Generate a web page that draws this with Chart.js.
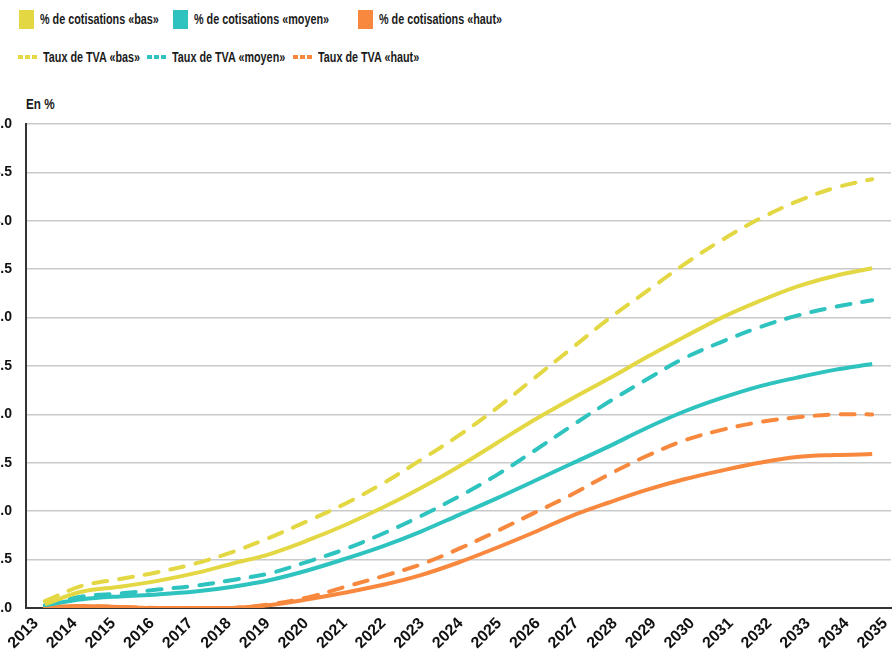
<!DOCTYPE html>
<html>
<head>
<meta charset="utf-8">
<script src="https://cdn.jsdelivr.net/npm/chart.js@4.4.1/dist/chart.umd.min.js"></script>
<style>
  html, body { margin: 0; padding: 0; background: #fff; overflow: hidden; }
  body { width: 892px; height: 652px; position: relative; font-family: "Liberation Sans", Arial, sans-serif; font-weight: bold; color: #1a1a1a; }
  .lg { position: absolute; font-size: 15px; white-space: nowrap; line-height: 16px; transform: scaleX(0.72); transform-origin: 0 50%; }
  .box { position: absolute; width: 15px; height: 19px; }
  .dash { position: absolute; width: 19px; height: 4px; }
  #unit { position: absolute; left: 26px; top: 96px; font-size: 15px; line-height: 16px; transform: scaleX(0.78); transform-origin: 0 50%; }
  #wrap { position: absolute; left: -14px; top: 114px; width: 920px; height: 538px; }
</style>
</head>
<body>
<div id="legend"></div>
<div id="unit">En %</div>
<div id="wrap"><canvas id="myChart"></canvas></div>
<script>
// DONNEES
const years = ["2013", "2014", "2015", "2016", "2017", "2018", "2019", "2020", "2021", "2022", "2023", "2024",
  "2025", "2026", "2027", "2028", "2029", "2030", "2031", "2032", "2033", "2034", "2035"];

const cotisBas = [0.04, 0.17, 0.22, 0.28, 0.36, 0.46, 0.56, 0.70, 0.86, 1.04, 1.24, 1.46,
  1.70, 1.94, 2.16, 2.37, 2.59, 2.80, 3.00, 3.17, 3.32, 3.43, 3.51];
const cotisMoyen = [0.03, 0.09, 0.12, 0.14, 0.17, 0.22, 0.29, 0.39, 0.51, 0.64, 0.79, 0.96,
  1.13, 1.31, 1.49, 1.67, 1.86, 2.03, 2.17, 2.29, 2.38, 2.46, 2.52];
const cotisHaut = [0.01, 0.02, 0.01, 0.0, 0.0, 0.0, 0.03, 0.09, 0.16, 0.24, 0.34, 0.47,
  0.62, 0.78, 0.95, 1.09, 1.22, 1.33, 1.42, 1.50, 1.56, 1.58, 1.59];

const tvaBas = [0.07, 0.23, 0.30, 0.37, 0.46, 0.58, 0.73, 0.90, 1.08, 1.29, 1.53, 1.78,
  2.06, 2.37, 2.68, 2.99, 3.27, 3.55, 3.80, 4.02, 4.20, 4.34, 4.43];
const tvaMoyen = [0.03, 0.12, 0.15, 0.19, 0.23, 0.29, 0.36, 0.48, 0.61, 0.77, 0.95, 1.15,
  1.37, 1.62, 1.88, 2.13, 2.36, 2.58, 2.75, 2.90, 3.02, 3.11, 3.18];
const tvaHaut = [0.01, 0.02, 0.01, 0.0, 0.0, 0.0, 0.04, 0.11, 0.22, 0.33, 0.45, 0.61,
  0.79, 0.98, 1.17, 1.38, 1.57, 1.73, 1.84, 1.92, 1.97, 2.00, 2.00];

const yTicks = [0, 0.5, 1, 1.5, 2, 2.5, 3, 3.5, 4, 4.5, 5];

const jaune = "#e3d844";
const turquoise = "#2ec3bf";
const orange = "#f8883d";

const cotisNames = ["% de cotisations «bas»", "% de cotisations «moyen»", "% de cotisations «haut»"];
const tvaNames = ["Taux de TVA «bas»", "Taux de TVA «moyen»", "Taux de TVA «haut»"];
const colors = [jaune, turquoise, orange];

// LEGENDE
const legend = document.getElementById("legend");
const boxX = [19, 173, 358];
const dashX = [18, 147, 293];
for (let i = 0; i < 3; i++) {
  legend.innerHTML += '<div class="box" style="left:' + boxX[i] + 'px;top:10px;background:' + colors[i] + '"></div>'
    + '<div class="lg" style="left:' + (boxX[i] + 21) + 'px;top:11px">' + cotisNames[i] + '</div>'
    + '<div class="dash" style="left:' + dashX[i] + 'px;top:55px;background:repeating-linear-gradient(to right,'
    + colors[i] + ' 0 5px, transparent 5px 7px)"></div>'
    + '<div class="lg" style="left:' + (dashX[i] + 25) + 'px;top:49px">' + tvaNames[i] + '</div>';
}

function line(label, data, color, dashed) {
  return {
    label: label,
    data: data,
    borderColor: color,
    backgroundColor: color,
    borderWidth: 4,
    borderDash: dashed ? [14, 12] : [],
    borderCapStyle: dashed ? "round" : "butt",
    pointRadius: 0,
    tension: 0.35,
    fill: false,
  };
}

function noPadding(scale) {
  scale.paddingLeft = 0;
  scale.paddingRight = 0;
  scale.paddingTop = 0;
  scale.paddingBottom = 0;
}

const tickFont = { family: "'Liberation Sans', Arial, sans-serif", weight: "bold" };

const ctx = document.getElementById("myChart").getContext("2d");
const myChart = new Chart(ctx, {
  type: "line",
  data: {
    labels: years,
    datasets: [
      line(tvaNames[0], tvaBas, jaune, true),
      line(cotisNames[0], cotisBas, jaune, false),
      line(tvaNames[1], tvaMoyen, turquoise, true),
      line(cotisNames[1], cotisMoyen, turquoise, false),
      line(tvaNames[2], tvaHaut, orange, true),
      line(cotisNames[2], cotisHaut, orange, false),
    ],
  },
  options: {
    responsive: true,
    maintainAspectRatio: false,
    animation: false,
    layout: { padding: { top: 10, right: 15, left: 0, bottom: 0 } },
    plugins: {
      legend: { display: false },
      tooltip: { enabled: false },
    },
    scales: {
      x: {
        type: "category",
        offset: true,
        grid: { display: false, drawTicks: false },
        border: { display: true, color: "#333333", width: 2 },
        ticks: { display: false },
        afterFit: function (s) { s.height = 0; noPadding(s); },
      },
      xl: {
        type: "linear",
        position: "bottom",
        min: 2012.74,
        max: 2035.15,
        grid: { display: false, drawTicks: false },
        border: { display: false },
        ticks: {
          stepSize: 1,
          includeBounds: false,
          autoSkip: false,
          maxTicksLimit: 40,
          minRotation: 45,
          maxRotation: 45,
          padding: 6,
          color: "#111111",
          font: Object.assign({ size: 16 }, tickFont),
          callback: function (v) { return String(v); },
        },
        afterFit: function (s) { s.height = 44; noPadding(s); },
      },
      y: {
        min: 0,
        max: 5,
        grid: { color: "#cacaca", lineWidth: 1.5, drawTicks: false },
        border: { display: true, color: "#333333", width: 2 },
        afterBuildTicks: function (s) { s.ticks = yTicks.map(function (v) { return { value: v }; }); },
        ticks: {
          padding: 14,
          color: "#111111",
          font: Object.assign({ size: 14 }, tickFont),
          callback: function (v) { return v.toFixed(1); },
        },
        afterFit: function (s) { s.width = 40; noPadding(s); },
      },
    },
  },
});
</script>
</body>
</html>
